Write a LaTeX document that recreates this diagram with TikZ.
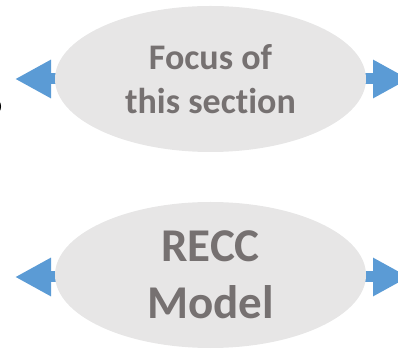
\documentclass[tikz,border=0pt]{standalone}
\usepackage{fontspec}
\setmainfont{Carlito}[Ligatures={NoCommon}]
\usetikzlibrary{shapes.geometric,arrows.meta}
\definecolor{ellgray}{HTML}{E7E6E6}
\definecolor{txtgray}{HTML}{767171}
\definecolor{arrblue}{HTML}{5B9BD5}
\tikzset{
  bubble/.style={ellipse, fill=ellgray, draw=none, minimum width=311pt, minimum height=146pt, inner sep=0pt, text=txtgray, align=center, font=\bfseries},
  blockarrow/.style={draw=arrblue, line width=11pt, -{Triangle[length=36pt,width=36pt]}, shorten <=-2pt}
}
\begin{document}
\begin{tikzpicture}[x=1pt,y=1pt]
\useasboundingbox (0,0) rectangle (398,350);
\clip (0,0) rectangle (398,350);
% fragment at left edge
\draw[line width=2pt] (-4.5,243.5) ellipse[x radius=4.5, y radius=6.5];
\coordinate (tl) at (15,271);
\coordinate (tr) at (409,271);
\coordinate (bl) at (15,73);
\coordinate (br) at (409,73);
\draw[blockarrow] (57,271) -- (tl);
\draw[blockarrow] (364,271) -- (tr);
\draw[blockarrow] (57,73) -- (bl);
\draw[blockarrow] (364,73) -- (br);
\node[bubble, font=\bfseries\fontsize{36}{44}\selectfont] (top) at (210.5,271) {Focus of\\this section};
\node[bubble, font=\bfseries\fontsize{47}{57}\selectfont] (bot) at (210.5,75) {RECC\\Model};
\end{tikzpicture}
\end{document}
